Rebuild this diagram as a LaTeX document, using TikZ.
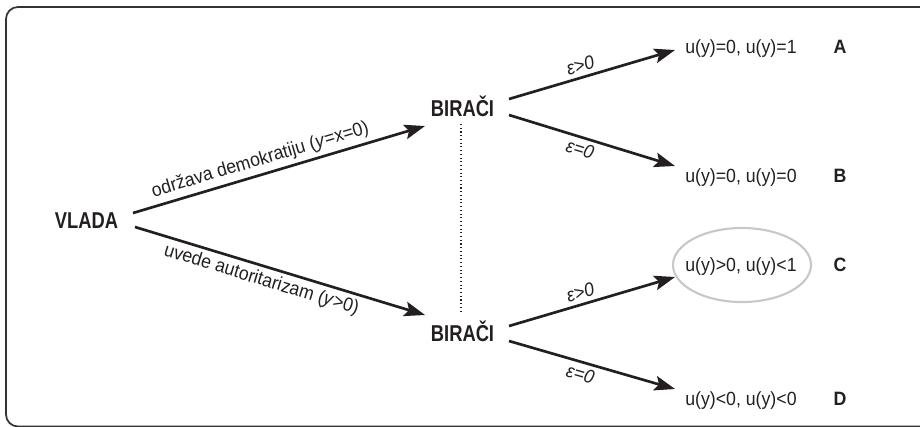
\documentclass[tikz,border=0pt]{standalone}
\usepackage{fontspec}
\setmainfont{Liberation Sans}
\newfontfamily\namefont[FakeStretch=0.8]{Liberation Sans}
\newfontfamily\tagfont[FakeStretch=0.92]{Liberation Sans}
\newfontfamily\labelfont[FakeStretch=0.93]{Liberation Sans}
\usetikzlibrary{arrows.meta}
\definecolor{ink}{HTML}{231F20}
\definecolor{frame}{HTML}{333333}
\definecolor{ring}{HTML}{C8C8C8}
\begin{document}
\begin{tikzpicture}[x=0.75pt,y=-0.75pt,
  every node/.style={text=ink,font=\labelfont\fontsize{14.3}{17}\selectfont,inner sep=0pt},
  player/.style={font=\namefont\fontsize{17.2}{20}\selectfont\bfseries,anchor=base},
  payoff/.style={anchor=base west},
  tag/.style={font=\tagfont\fontsize{14.5}{17}\selectfont\bfseries,anchor=base},
  move/.style={draw=ink,line width=2pt,-{Stealth[length=15.5pt,width=11pt,inset=3pt]}},
  movelabel/.style={sloped,inner sep=3pt},
  info/.style={draw=ink,line width=0.8pt,dash pattern=on 0.8pt off 2pt}]
\useasboundingbox (0,0) rectangle (920,426);
% frame, open towards the right and bottom
\draw[frame,line width=1.3pt,rounded corners=9] (925,7) -- (6,7) -- (6,426.5) -- (925,426.5);

% players
\node[player] (vlada) at (86.5,228.5) {VLADA};
\node[player] (b1) at (462.5,116.5) {BIRAČI};
\node[player] (b2) at (462.5,341.5) {BIRAČI};

% outcomes
\node[payoff] (pa) at (685,53) {u(y)=0, u(y)=1};
\node[payoff] (pb) at (685,182) {u(y)=0, u(y)=0};
\node[payoff] (pc) at (685,271) {u(y)>0, u(y)<1};
\node[payoff] (pd) at (685,405) {u(y)<0, u(y)<0};
\node[tag] (ta) at (840,53) {A};
\node[tag] (tb) at (840,182) {B};
\node[tag] (tc) at (840,271) {C};
\node[tag] (td) at (840,405) {D};
\draw[ring,line width=1.6pt] (742,265) ellipse [x radius=69, y radius=37];

% arrow end points
\coordinate (v-out1) at (133,213);
\coordinate (v-out2) at (135,227);
\coordinate (b1-in) at (425,126);
\coordinate (b2-in) at (425,315);
\coordinate (b1-out1) at (509,99);
\coordinate (b1-out2) at (509,115);
\coordinate (b2-out1) at (509,326);
\coordinate (b2-out2) at (509,341);
\coordinate (a-in) at (675,50);
\coordinate (b-in) at (675,166);
\coordinate (c-in) at (675,277);
\coordinate (d-in) at (675,389);

% government's moves
\draw[move] (v-out1) -- node[movelabel,above,pos=0.45] {održava demokratiju (\textit{y}=x=0)} (b1-in);
\draw[move] (v-out2) -- node[movelabel,below,pos=0.45] {uvede autoritarizam (\textit{y}>0)} (b2-in);

% voters' moves
\draw[move] (b1-out1) -- node[movelabel,above,pos=0.45] {\itshape ε>0} (a-in);
\draw[move] (b1-out2) -- node[movelabel,below,pos=0.45] {\itshape ε=0} (b-in);
\draw[move] (b2-out1) -- node[movelabel,above,pos=0.45] {\itshape ε>0} (c-in);
\draw[move] (b2-out2) -- node[movelabel,below,pos=0.45] {\itshape ε=0} (d-in);

% information set
\coordinate (i-top) at (461,124);
\coordinate (i-bot) at (461,314);
\draw[info] (i-top) -- (i-bot);
\end{tikzpicture}
\end{document}
